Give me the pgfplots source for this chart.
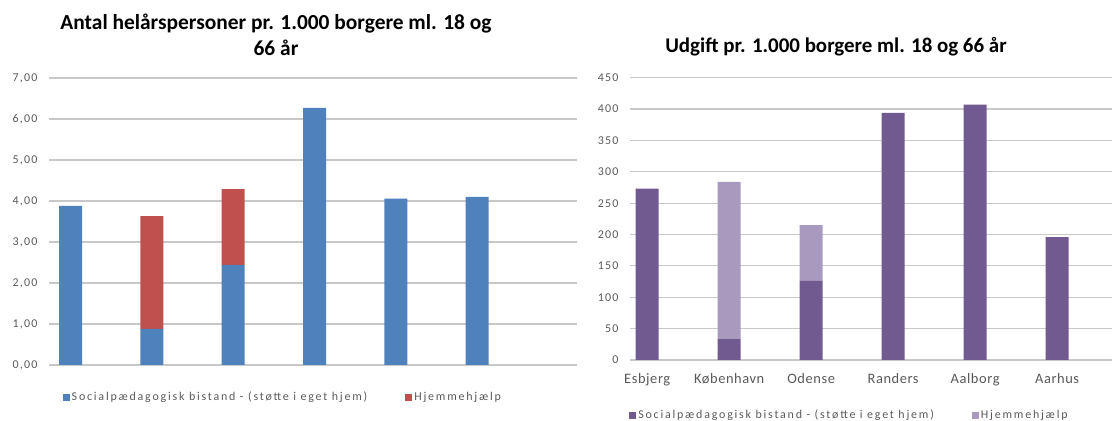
\documentclass[border=0pt]{standalone}
\usepackage{pgfplots}
\pgfplotsset{compat=1.18}
\usepackage{fontspec}
\setmainfont{Carlito}
\definecolor{cblue}{HTML}{4F81BD}
\definecolor{cred}{HTML}{C0504D}
\definecolor{cpurple}{HTML}{715A8F}
\definecolor{clpurple}{HTML}{A899BF}
\definecolor{cgrid}{HTML}{C8C8C8}
\definecolor{ctext}{HTML}{595959}
\pgfplotsset{
  common/.style={
    scale only axis,
    ybar stacked,
    bar width=23bp,
    axis line style={draw=none},
    major tick style={draw=none},
    ymajorgrids,
    grid style={cgrid, line width=1.2bp},
    tick label style={font=\fontsize{12}{14}\selectfont\addfontfeature{LetterSpace=10}, text=ctext},
    yticklabel style={xshift=-8bp},
    /pgf/number format/assume math mode=true,
    legend style={draw=none, fill=none, font=\fontsize{12}{14}\selectfont\addfontfeature{LetterSpace=15}, text=ctext,
      legend cell align=left, /tikz/every even column/.append style={column sep=36bp}},
    legend columns=2,
    legend image code/.code={\fill[#1] (0bp,-3.5bp) rectangle (7bp,3.5bp);},
    xtick=data,
    ymin=0,
  }
}
\begin{document}
\begin{tikzpicture}
\path[use as bounding box] (0,0) rectangle (1118bp,421bp);
% left chart
\begin{axis}[common,
  at={(49bp,56bp)}, anchor=south west,
  width=528bp, height=287bp,
  xmin=-0.267, xmax=6.23,
  ymax=7, ytick={0,1,...,7},
  xticklabels={},
  yticklabel style={/pgf/number format/.cd, fixed, fixed zerofill, precision=2, use comma},
  legend style={at={(0.02,-0.112)}, anchor=west},
]
\addplot[fill=cblue, draw=none] coordinates {(0,3.88) (1,0.88) (2,2.44) (3,6.27) (4,4.06) (5,4.10)};
\addplot[fill=cred, draw=none] coordinates {(0,0) (1,2.75) (2,1.85) (3,0) (4,0) (5,0)};
\legend{Socialpædagogisk bistand - (støtte i eget hjem), Hjemmehjælp}
\end{axis}
% right chart
\begin{axis}[common,
  at={(630bp,61bp)}, anchor=south west,
  width=482bp, height=282.3bp,
  xmin=-0.21, xmax=5.67,
  ymax=450, ytick={0,50,...,450},
  xticklabels={Esbjerg,København,Odense,Randers,Aalborg,Aarhus},
  xticklabel style={font=\fontsize{14.5}{16}\selectfont\addfontfeature{LetterSpace=4}, text=ctext, yshift=-10bp},
  legend style={at={(-0.008,-0.195)}, anchor=west},
]
\addplot[fill=cpurple, draw=none] coordinates {(0,273) (1,34) (2,126) (3,394) (4,407) (5,196)};
\addplot[fill=clpurple, draw=none] coordinates {(0,0) (1,250) (2,89) (3,0) (4,0) (5,0)};
\legend{Socialpædagogisk bistand - (støtte i eget hjem), Hjemmehjælp}
\end{axis}
\node[font=\bfseries\fontsize{21.5}{26}\selectfont, align=center, anchor=center] at (276bp,421bp-35bp) {Antal helårspersoner pr. 1.000 borgere ml. 18 og\\66 år};
\node[font=\bfseries\fontsize{21}{26}\selectfont, anchor=center] at (836bp,421bp-47bp) {Udgift pr. 1.000 borgere ml. 18 og 66 år};
\end{tikzpicture}
\end{document}
